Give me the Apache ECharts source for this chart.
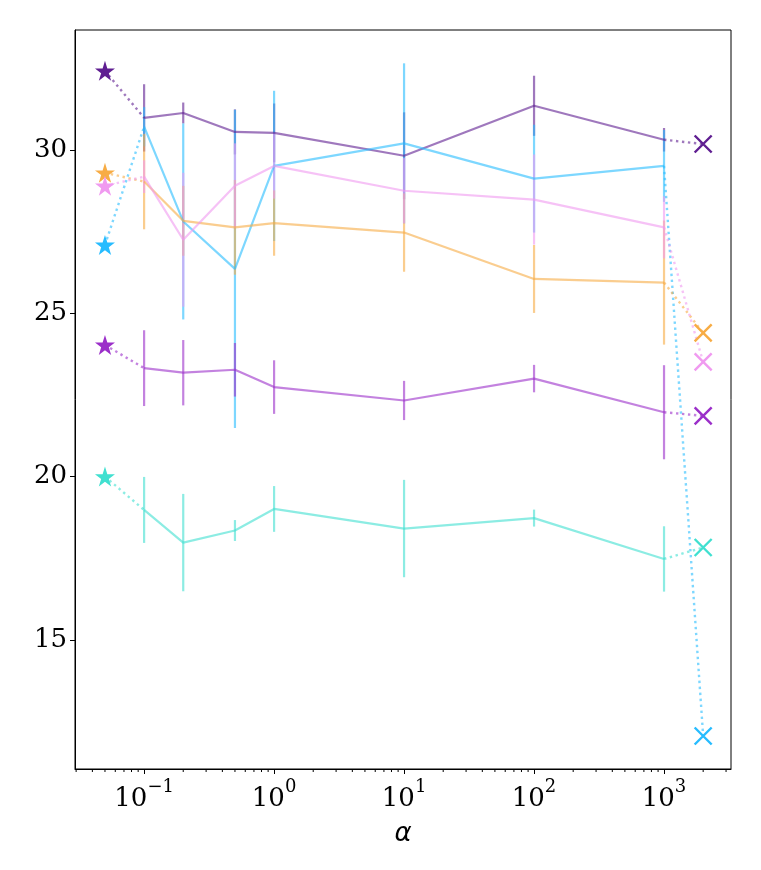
<!DOCTYPE html>
<html>
<head>
<meta charset="utf-8">
<script src="https://cdn.jsdelivr.net/npm/echarts@6/dist/echarts.min.js"></script>
<style>
  html, body { margin: 0; padding: 0; background: #fff; }
  #chart { width: 761px; height: 870px; }
</style>
</head>
<body>
<div id="chart"></div>
<script>
// x positions (alpha values) shared by every run
const alphas = [0.1, 0.2, 0.5, 1, 10, 100, 1000];
const starAlpha = 0.05;
const crossAlpha = 2000;

// per-run means and error bar half-widths
const darkPurpleMean = [30.98, 31.13, 30.55, 30.52, 29.82, 31.35, 30.31];
const darkPurpleErr  = [1.03, 0.32, 0.69, 0.9, 1.33, 0.92, 0.36];
const skyMean   = [30.71, 27.81, 26.36, 29.51, 30.2, 29.12, 29.51];
const skyErr    = [0.6, 3.0, 4.87, 2.3, 2.45, 1.65, 1.1];
const orangeMean = [29.03, 27.83, 27.63, 27.76, 27.47, 26.05, 25.94];
const orangeErr  = [1.46, 1.07, 1.45, 1.0, 1.2, 1.04, 1.9];
const pinkMean  = [29.18, 27.25, 28.9, 29.51, 28.75, 28.48, 27.63];
const pinkErr   = [0.5, 2.05, 1.3, 1.0, 1.0, 1.38, 0.95];
const orchidMean = [23.32, 23.18, 23.27, 22.74, 22.33, 23.0, 21.97];
const orchidErr  = [1.16, 1.0, 0.82, 0.82, 0.6, 0.42, 1.44];
const turqMean  = [18.98, 17.98, 18.35, 19.01, 18.41, 18.73, 17.48];
const turqErr   = [1.01, 1.49, 0.32, 0.7, 1.49, 0.26, 1.0];

// reference points: star at the left, cross at the right
const starValues  = [32.42, 27.09, 29.3, 28.9, 24.03, 20.0];
const crossValues = [30.18, 12.06, 24.4, 23.51, 21.86, 17.83];

const colors = ['#5f1e91', '#27bcff', '#f7ac45', '#f09af0', '#9b2fc9', '#40e0d0'];
const means = [darkPurpleMean, skyMean, orangeMean, pinkMean, orchidMean, turqMean];
const errs  = [darkPurpleErr, skyErr, orangeErr, pinkErr, orchidErr, turqErr];

const yMin = 11.05, yMax = 33.67;
const xMin = 0.0294, xMax = 3275;

// minor log ticks 2..9 x 10^k inside the x range
const minorMant = [2, 3, 4, 5, 6, 7, 8, 9];
const minorTicks = [];
[-2, -1, 0, 1, 2, 3].forEach(function (e) {
    minorMant.forEach(function (m) {
        const v = m * Math.pow(10, e);
        if (v > xMin && v < xMax) minorTicks.push(v);
    });
});

const STAR = 'path://M50,0 L61.2,34.5 L97.6,34.5 L68.2,55.9 L79.4,90.5 L50,69.1 L20.6,90.5 L31.8,55.9 L2.4,34.5 L38.8,34.5 Z';
const CROSS = 'path://M0,0 L10,10 M10,0 L0,10';
const A = 0.6;

function fade(hex, a) {
    const n = parseInt(hex.slice(1), 16);
    return 'rgba(' + (n >> 16) + ',' + ((n >> 8) & 255) + ',' + (n & 255) + ',' + a + ')';
}

const chart = echarts.init(document.getElementById('chart'));
const series = [];

means.forEach(function (mean, i) {
    const c = colors[i];
    const err = errs[i];
    // error bars
    series.push({
        type: 'custom',
        clip: false,
        z: 2,
        data: alphas.map(function (x, k) { return [x, mean[k], err[k]]; }),
        encode: { x: 0, y: 1 },
        renderItem: function (params, api) {
            const x = api.value(0), y = api.value(1), e = api.value(2);
            const lo = api.coord([x, y - e]);
            const hi = api.coord([x, y + e]);
            return {
                type: 'line',
                shape: { x1: lo[0], y1: lo[1], x2: hi[0], y2: hi[1] },
                style: { stroke: fade(c, A), lineWidth: 2.2 }
            };
        }
    });
    // mean line
    series.push({
        type: 'line',
        z: 3,
        data: alphas.map(function (x, k) { return [x, mean[k]]; }),
        symbol: 'none',
        lineStyle: { color: fade(c, A), width: 2.2 },
        animation: false
    });
    // dotted links to the star and the cross
    [[[starAlpha, starValues[i]], [alphas[0], mean[0]]],
     [[alphas[alphas.length - 1], mean[mean.length - 1]], [crossAlpha, crossValues[i]]]].forEach(function (seg) {
        series.push({
            type: 'line',
            z: 3,
            data: seg,
            symbol: 'none',
            lineStyle: { color: fade(c, A), width: 2.4, type: [2.4, 3.6] },
            animation: false
        });
    });
    series.push({
        type: 'scatter',
        z: 5,
        data: [[starAlpha, starValues[i]]],
        symbol: STAR,
        symbolSize: 20,
        itemStyle: { color: c, opacity: 1 },
        animation: false
    });
    series.push({
        type: 'scatter',
        z: 5,
        data: [[crossAlpha, crossValues[i]]],
        symbol: CROSS,
        symbolSize: 17,
        itemStyle: { color: 'none', borderColor: c, borderWidth: 2.4, opacity: 1 },
        animation: false
    });
});

// minor ticks on the log axis
series.push({
    type: 'custom',
    clip: false,
    silent: true,
    data: minorTicks.map(function (v) { return [v, yMin]; }),
    encode: { x: 0, y: 1 },
    renderItem: function (params, api) {
        const p = api.coord([api.value(0), api.value(1)]);
        return {
            type: 'line',
            shape: { x1: p[0], y1: p[1], x2: p[0], y2: p[1] + 3 },
            style: { stroke: '#000', lineWidth: 1 }
        };
    }
});

chart.setOption({
    animation: false,
    backgroundColor: '#fff',
    grid: {
        left: 75, right: 30, top: 30, bottom: 101,
        show: true, borderColor: '#000', borderWidth: 1
    },
    xAxis: {
        type: 'log',
        logBase: 10,
        min: xMin,
        max: xMax,
        name: 'α',
        nameLocation: 'middle',
        nameGap: 52,
        nameTextStyle: { fontFamily: 'DejaVu Sans', fontStyle: 'italic', fontSize: 26, color: '#000' },
        splitLine: { show: false },
        axisLine: { show: true, lineStyle: { color: '#000', width: 1 } },
        axisTick: { show: true, length: 5, lineStyle: { color: '#000' } },
        axisLabel: {
            showMinLabel: false,
            showMaxLabel: false,
            margin: 9,
            formatter: function (v) {
                const e = Math.round(Math.log10(v));
                return '{b|10}{s|' + (e < 0 ? '\u2212' + (-e) : e) + '}';
            },
            rich: {
                b: { fontFamily: 'DejaVu Serif', fontSize: 26, color: '#000', lineHeight: 34, verticalAlign: 'bottom' },
                s: { fontFamily: 'DejaVu Serif', fontSize: 18, color: '#000', lineHeight: 34, verticalAlign: 'top' }
            }
        }
    },
    yAxis: {
        type: 'value',
        min: yMin,
        max: yMax,
        splitLine: { show: false },
        axisLine: { show: true, lineStyle: { color: '#000', width: 1 } },
        axisTick: { show: true, length: 5, lineStyle: { color: '#000' } },
        axisLabel: {
            showMinLabel: false,
            showMaxLabel: false,
            margin: 8,
            fontFamily: 'DejaVu Serif',
            fontSize: 26,
            color: '#000'
        }
    },
    series: series
});
</script>
</body>
</html>
